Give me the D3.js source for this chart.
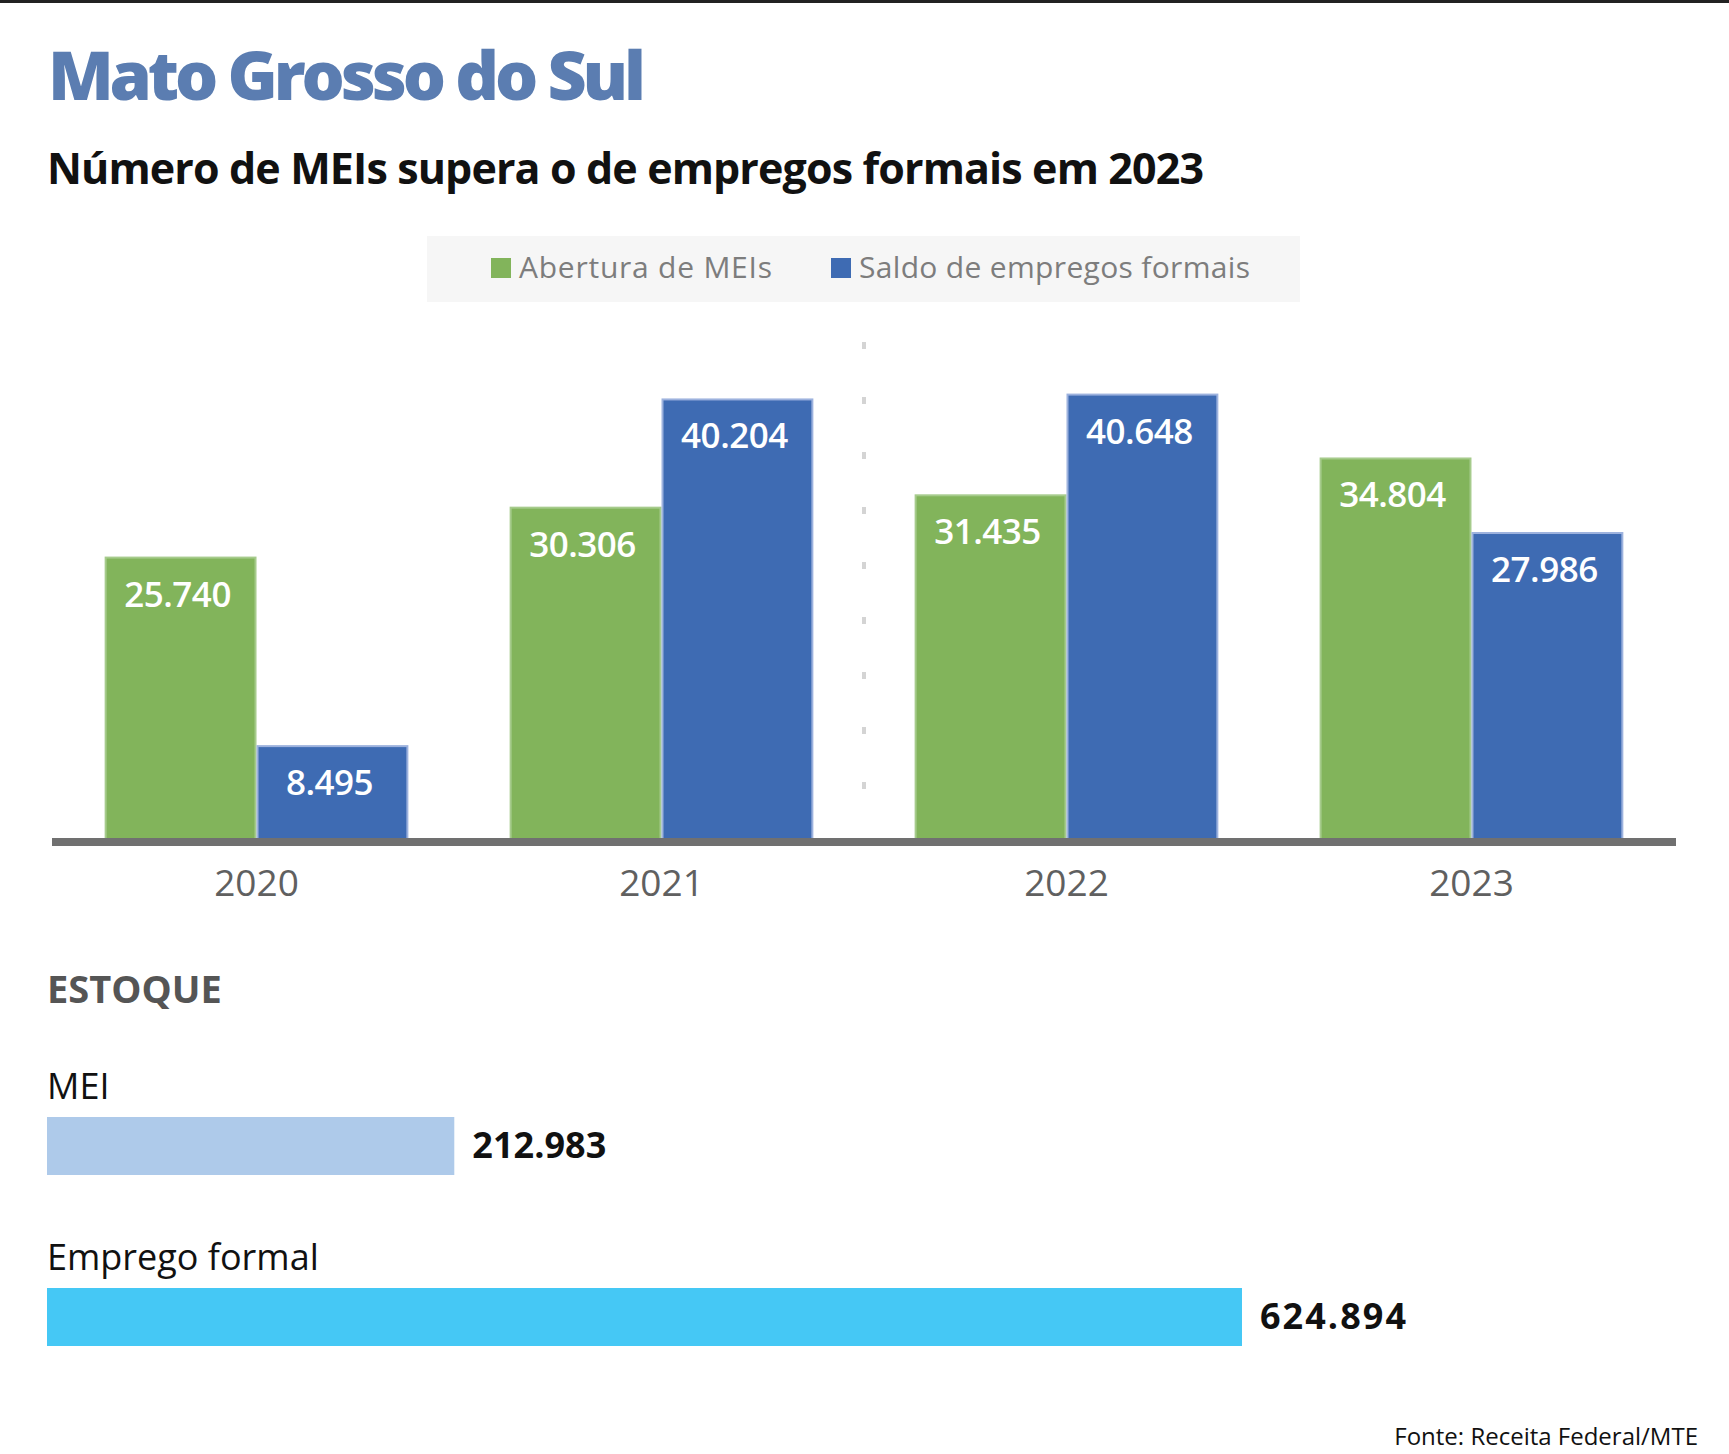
<!DOCTYPE html>
<html>
<head>
<meta charset="utf-8">
<script src="https://cdn.jsdelivr.net/npm/d3@7"></script>
<style>
  body { margin: 0; background: #fff; }
  text { font-family: "Open Sans", "DejaVu Sans", sans-serif; }
</style>
</head>
<body>
<div id="chart"></div>
<script>
// chart data
const years = ["2020", "2021", "2022", "2023"];
const series = ["Abertura de MEIs", "Saldo de empregos formais"];
const aberturaMei = [25740, 30306, 31435, 34804];
const saldoEmpregos = [8495, 40204, 40648, 27986];
const estoqueLabels = ["MEI", "Emprego formal"];
const estoqueValues = [212983, 624894];

const W = 1729, H = 1454;
const colors = ["#82b45b", "#3e6bb3"];
const edges = ["#a6cb8c", "#9db2de"];
const estoqueColors = ["#aecaea", "#45c8f5"];

const br = d3.formatLocale({decimal: ",", thousands: ".", grouping: [3], currency: ["R$", ""]});
const fmt = br.format(",d");

// stretch/squeeze text to the measured width of the original
function fit(sel, w) {
    const n = sel.text().length;
    const cur = sel.node().getComputedTextLength();
    sel.attr("letter-spacing", (w - cur) / (n - 1));
}

document.fonts.ready.then(draw);

function draw() {
    const svg = d3.select("#chart")
        .append("svg")
            .attr("width", W)
            .attr("height", H);

    svg.append("rect")
        .attr("x", 0).attr("y", 0)
        .attr("width", W).attr("height", 3)
        .attr("fill", "#222");

    const title = svg.append("text")
        .attr("x", 48).attr("y", 100)
        .attr("font-family", "Lato, 'Open Sans', sans-serif")
        .attr("font-size", 68)
        .attr("font-weight", 900)
        .attr("fill", "#5b7db1")
        .text("Mato Grosso do Sul");
    fit(title, 598);

    const sub = svg.append("text")
        .attr("x", 47).attr("y", 184)
        .attr("font-size", 43)
        .attr("font-weight", 700)
        .attr("fill", "#111")
        .text("Número de MEIs supera o de empregos formais em 2023");
    fit(sub, 1157);

    // legend
    const legend = svg.append("g");
    legend.append("rect")
        .attr("x", 427).attr("y", 236)
        .attr("width", 873).attr("height", 66)
        .attr("fill", "#f6f6f6");
    const legendX = [491, 831];
    const legendW = [253, 391];
    series.forEach((s, i) => {
        legend.append("rect")
            .attr("x", legendX[i]).attr("y", 258)
            .attr("width", 20).attr("height", 20)
            .attr("fill", colors[i]);
        const t = legend.append("text")
            .attr("x", legendX[i] + 28).attr("y", 278)
            .attr("font-size", 30)
            .attr("fill", "#7d7d7d")
            .text(s);
        fit(t, legendW[i]);
    });

    // bar chart
    const x = d3.scaleBand()
        .domain(years)
        .range([52, 1676])
        .paddingInner(0.25)
        .paddingOuter(0.13);

    const xs = d3.scaleBand()
        .domain(series)
        .range([0, x.bandwidth()]);

    const y = d3.scaleLinear()
        .domain([0, 45000])
        .range([838, 346]);

    // dotted divider
    svg.append("line")
        .attr("x1", 864).attr("x2", 864)
        .attr("y1", 342).attr("y2", 790)
        .attr("stroke", "#d4d4d4")
        .attr("stroke-width", 4)
        .attr("stroke-dasharray", "7 48");

    const rows = years.map((yr, i) => ({
        year: yr,
        values: [aberturaMei[i], saldoEmpregos[i]]
    }));

    const groups = svg.append("g")
        .selectAll("g")
        .data(rows)
        .join("g")
            .attr("transform", d => `translate(${x(d.year)},0)`);

    const bars = groups.selectAll("g")
        .data(d => d.values.map((v, i) => ({key: series[i], value: v, i})))
        .join("g");

    bars.append("rect")
        .attr("x", d => xs(d.key) + 1)
        .attr("y", d => y(d.value) + 1)
        .attr("width", xs.bandwidth() - 2)
        .attr("height", d => y(0) - y(d.value))
        .attr("fill", d => colors[d.i])
        .attr("stroke", d => edges[d.i])
        .attr("stroke-width", 2);

    bars.append("text")
        .attr("x", d => xs(d.key) + xs.bandwidth() / 2 - 3)
        .attr("y", d => y(d.value) + 50)
        .attr("text-anchor", "middle")
        .attr("font-size", 35)
        .attr("font-weight", 600)
        .attr("fill", "#fff")
        .attr("letter-spacing", -0.5)
        .text(d => fmt(d.value));

    const axis = svg.append("g")
        .attr("transform", "translate(0,838)")
        .call(d3.axisBottom(x).tickSize(0).tickPadding(0));
    axis.select(".domain").remove();
    axis.insert("rect", ":first-child")
        .attr("x", 52).attr("y", 0)
        .attr("width", 1676 - 52).attr("height", 8)
        .attr("fill", "#707070");
    axis.selectAll(".tick text")
        .attr("y", 58)
        .attr("dy", null)
        .attr("font-family", "Open Sans, sans-serif")
        .attr("font-size", 37)
        .attr("fill", "#606060");

    // estoque
    svg.append("text")
        .attr("x", 47).attr("y", 1003)
        .attr("font-size", 38)
        .attr("font-weight", 700)
        .attr("fill", "#555")
        .text("ESTOQUE");

    const xe = d3.scaleLinear()
        .domain([0, 650000])
        .range([47, 1290]);

    const rowY = [1117, 1288];
    const valueW = [134, 146];
    const est = svg.append("g")
        .selectAll("g")
        .data(estoqueLabels.map((l, i) => ({label: l, value: estoqueValues[i], i})))
        .join("g");

    est.append("text")
        .attr("x", 47)
        .attr("y", d => rowY[d.i] - 18)
        .attr("font-size", 36)
        .attr("fill", "#111")
        .text(d => d.label);

    est.append("rect")
        .attr("x", xe(0))
        .attr("y", d => rowY[d.i])
        .attr("width", d => xe(d.value) - xe(0))
        .attr("height", 58)
        .attr("fill", d => estoqueColors[d.i]);

    est.append("text")
        .attr("x", d => xe(d.value) + 18)
        .attr("y", d => rowY[d.i] + 41)
        .attr("font-size", 36)
        .attr("font-weight", 700)
        .attr("fill", "#111")
        .text(d => fmt(d.value))
        .each(function (d) { fit(d3.select(this), valueW[d.i]); });

    svg.append("text")
        .attr("x", 1698).attr("y", 1445)
        .attr("text-anchor", "end")
        .attr("font-size", 24)
        .attr("fill", "#111")
        .text("Fonte: Receita Federal/MTE");
}
</script>
</body>
</html>
